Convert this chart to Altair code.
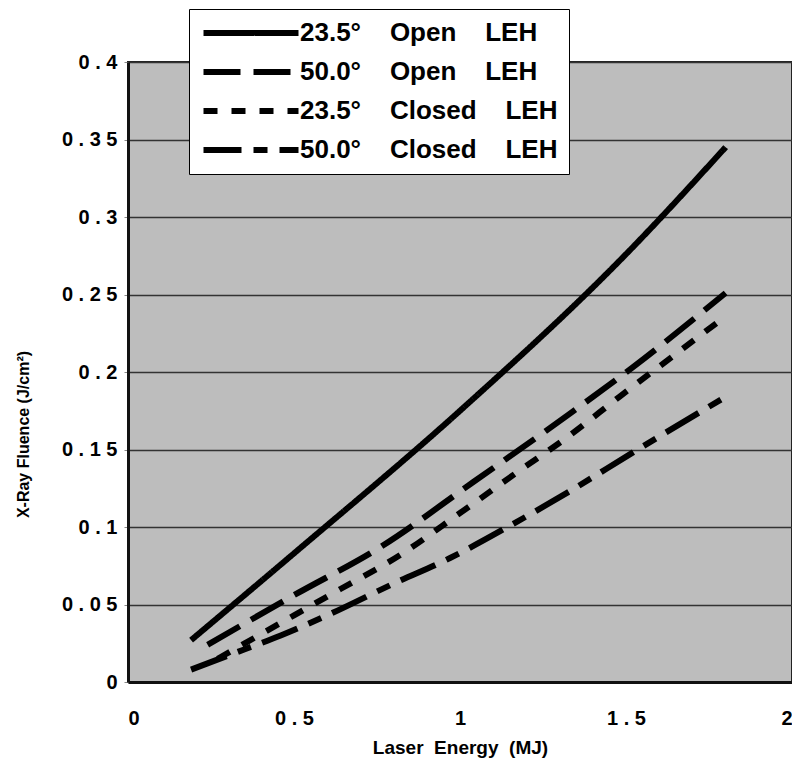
import altair as alt
import pandas as pd

# ---- data ----
sp = "\u00a0" * 4
series_names = [
    f"23.5°{sp}Open{sp}LEH",
    f"50.0°{sp}Open{sp}LEH",
    f"23.5°{sp}Closed{sp}LEH",
    f"50.0°{sp}Closed{sp}LEH",
]

open235_x = [0.19, 0.5, 1.0, 1.5, 1.8]
open235_y = [0.027, 0.083, 0.175, 0.276, 0.345]

open500_x = [0.24, 0.5, 0.76, 1.04, 1.33, 1.52, 1.8]
open500_y = [0.024, 0.056, 0.087, 0.129, 0.173, 0.203, 0.251]

closed235_x = [0.27, 0.5, 0.64, 0.82, 1.0, 1.17, 1.33, 1.48, 1.64, 1.8]
closed235_y = [0.015, 0.043, 0.060, 0.082, 0.109, 0.135, 0.159, 0.184, 0.210, 0.236]

closed500_x = [0.19, 0.35, 0.46, 0.61, 0.80, 0.97, 1.16, 1.33, 1.52, 1.8]
closed500_y = [0.008, 0.021, 0.030, 0.044, 0.0635, 0.080, 0.102, 0.123, 0.148, 0.184]

x_ticks = [0, 0.5, 1, 1.5, 2]
y_ticks = [0, 0.05, 0.1, 0.15, 0.2, 0.25, 0.3, 0.35, 0.4]

rows = []
for name, xs, ys in zip(series_names,
                        [open235_x, open500_x, closed235_x, closed500_x],
                        [open235_y, open500_y, closed235_y, closed500_y]):
    for i, (xv, yv) in enumerate(zip(xs, ys)):
        rows.append({"series": name, "energy": xv, "fluence": yv, "order": i})
df = pd.DataFrame(rows)

FONT = "Liberation Sans"

chart = alt.Chart(df).mark_line(
    color="black", strokeWidth=6, strokeCap="butt", strokeJoin="round",
    interpolate="monotone"
).encode(
    x=alt.X("energy:Q",
            scale=alt.Scale(domain=[0, 2], nice=False, zero=True),
            axis=alt.Axis(values=x_ticks, format="~g",
                          labelExpr="join(split(datum.label, ''), ' ')",
                          title="Laser\u00a0\u00a0Energy\u00a0\u00a0(MJ)",
                          grid=False, ticks=False, domain=True,
                          domainColor="#111", domainWidth=3,
                          labelFont=FONT, labelFontWeight="bold", labelFontSize=20,
                          labelColor="black", labelPadding=26,
                          titleFont=FONT, titleFontWeight="bold", titleFontSize=19,
                          titleColor="black", titlePadding=10)),
    y=alt.Y("fluence:Q",
            scale=alt.Scale(domain=[0, 0.4], nice=False),
            axis=alt.Axis(values=y_ticks, format="~g",
                          labelExpr="join(split(datum.label, ''), ' ')",
                          title="X-Ray\u00a0Fluence\u00a0(J/cm²)",
                          grid=True, gridColor="#333", gridWidth=1.5,
                          ticks=True, tickSize=4, tickColor="#888",
                          domain=True, domainColor="#111", domainWidth=3,
                          labelFont=FONT, labelFontWeight="bold", labelFontSize=20,
                          labelColor="black", labelPadding=7,
                          titleFont=FONT, titleFontWeight="bold", titleFontSize=16,
                          titleColor="black", titleAngle=270,
                          titleX=-105, titleY=372,
                          titleAlign="center", titleBaseline="middle")),
    strokeDash=alt.StrokeDash(
        "series:N",
        scale=alt.Scale(domain=series_names,
                        range=[[1, 0], [37, 13], [14, 14], [38, 12, 14, 12]]),
        legend=alt.Legend(
            title=None, orient="none", legendX=61, legendY=-53,
            padding=11, fillColor="white", strokeColor="black",
            symbolType="M-1,0H9", symbolSize=361, symbolStrokeWidth=6,
            symbolStrokeColor="black",
            labelFont=FONT, labelFontWeight="bold", labelFontSize=26,
            labelColor="black", labelOffset=74, labelLimit=500,
            rowPadding=13)),
    detail="series:N",
    order="order:Q",
).properties(
    width=664, height=620,
    padding={"left": 120, "top": 54, "right": 0, "bottom": 77},
    autosize=alt.AutoSizeParams(type="none"),
    background="white",
).configure_view(
    fill="#bdbdbd", stroke="#222", strokeWidth=2
)

chart.save("out.html", embed_options={"renderer": "svg", "actions": False})
